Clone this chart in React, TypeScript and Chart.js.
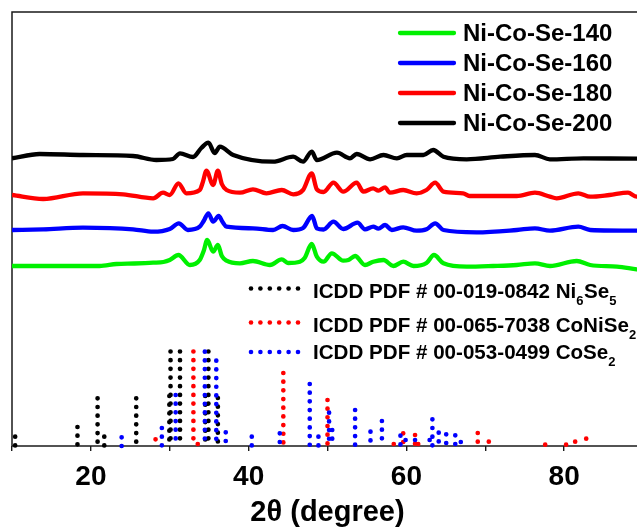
import React, { useEffect, useRef } from 'react';
import { Chart, registerables } from 'chart.js';

Chart.register(...registerables);

// ---------- data ----------
const xMin = 10;
const xMax = 90;
const xTickStep = 10;
const labelledTicks = [20, 40, 60, 80];
const xTitle = '2θ (degree)';

const seriesNames = ['Ni-Co-Se-140', 'Ni-Co-Se-160', 'Ni-Co-Se-180', 'Ni-Co-Se-200'];

const green2Theta = [10, 13.5, 17, 21.1, 23.25, 25.5, 27.9, 29.2, 30.0, 31.1, 32.55, 33.8, 34.3, 34.75, 35.5, 36.1, 36.6, 37.2, 38.9, 40.55, 42.7, 44.2, 45.0, 46.5, 47.1, 48.0, 48.65, 49.5, 50.55, 52.0, 52.65, 53.5, 54.75, 55.8, 57.1, 58.35, 59.6, 60.9, 62.55, 63.5, 64.7, 67.65, 71, 74.0, 76.3, 78.2, 81.6, 83.3, 86.7, 89.2, 90];
const greenIntensity = [180, 180, 180, 180, 182, 182.5, 183.3, 184, 186, 191, 181, 186, 195, 206, 194.3, 201, 190, 185.3, 182.7, 185, 181, 186.7, 183, 184.3, 188, 202, 189.3, 184.3, 192.7, 185.3, 186, 190, 181, 184.3, 186, 180, 184.3, 180, 183, 191, 182.7, 179.3, 180, 181, 182.7, 180, 185, 181, 179.3, 176.7, 176];

const blue2Theta = [10, 13.95, 19.0, 25.35, 27.9, 30.0, 31.15, 32.3, 33.8, 34.3, 34.9, 35.5, 36.2, 36.7, 37.2, 40.55, 43.1, 44.3, 45.65, 46.9, 48.05, 48.65, 49.5, 50.75, 52.0, 53.8, 54.75, 55.8, 56.45, 57.3, 58.15, 59.6, 61.3, 62.55, 63.65, 64.7, 68.9, 74.0, 76.3, 78.2, 81.8, 83.3, 89.2, 90];
const blueIntensity = [216, 216.7, 218.3, 216.7, 214.3, 217, 222.7, 216, 219.3, 225, 232.7, 224.3, 230, 224, 219.3, 217.7, 216, 220, 216, 218, 230, 217.7, 216.5, 224.3, 217, 223.3, 216.7, 219.3, 217.3, 221, 216, 218.7, 215.3, 216.7, 222.7, 216, 213.7, 216, 217.7, 215.3, 219.3, 216, 215.3, 215.3];

const red2Theta = [10, 13.95, 19.0, 24.1, 27.9, 29.15, 30.0, 31.1, 32.1, 33.8, 34.2, 34.65, 35.5, 36.1, 36.6, 37.2, 38.9, 40.55, 42.25, 44.2, 45.65, 46.9, 48.0, 48.65, 49.5, 50.75, 52.0, 53.7, 54.55, 55.8, 56.45, 57.3, 57.9, 59.6, 61.3, 62.55, 63.65, 64.7, 67.2, 68.0, 74.0, 76.3, 78.2, 79.05, 81.8, 83.3, 85.75, 88.1, 89.2, 90];
const redIntensity = [251, 247, 252.7, 251.7, 247.7, 253.3, 251, 262.7, 252.7, 256, 264, 275.3, 261, 275.3, 262, 256, 253.3, 256.7, 252.7, 256, 251.7, 256, 272.7, 256.7, 254, 263.3, 254.3, 263.3, 254.3, 257.7, 255.3, 258.7, 253.3, 256, 252.7, 256, 263.3, 254.3, 252.7, 250, 250, 253.3, 249.3, 247.7, 252.7, 249.3, 251, 253.3, 249.3, 249.3];

const black2Theta = [10, 13.5, 19.0, 25.35, 28.3, 30.4, 31.3, 32.95, 34.0, 34.9, 35.7, 36.35, 38.05, 43.1, 45.65, 46.9, 48.0, 48.65, 51.2, 52.85, 53.7, 55.4, 57.1, 58.8, 60.05, 62.15, 63.4, 64.7, 67.65, 71.9, 76.3, 78.2, 82.45, 89.2, 90];
const blackIntensity = [287.7, 292, 291, 290, 286, 287, 292.7, 289, 298, 303.3, 293, 299.3, 291, 284.3, 289.3, 284.3, 294.3, 286, 293.3, 287.7, 292, 286.7, 291, 287.7, 291, 291, 296, 289.3, 286.7, 289.3, 291, 286.7, 287.7, 287.3, 287.3];

// reference patterns (stick positions and heights)
const ni6se5Pos = [10.4, 18.3, 20.85, 21.7, 25.75, 29.95, 30.1, 31.3, 34.5, 34.9, 36.1];
const ni6se5Height = [9.3, 19, 47.7, 9.3, 47.7, 50, 94.5, 94.5, 50, 94.5, 48];

const coniseCPos = [28.2, 33.0, 33.55, 44.4, 50.0, 58.4, 59.6, 61.1, 61.5, 69.05, 70.45, 77.6, 80.25, 81.4, 82.8];
const coniseCHeight = [6.7, 94.5, 2, 73, 46, 2, 12.7, 11, 2, 13, 4.3, 1.3, 1.3, 4.3, 7.3];

const cose2Pos = [23.9, 29.0, 30.75, 34.45, 35.9, 37.1, 40.4, 43.95, 47.75, 48.85, 50.2, 50.6, 53.5, 55.45, 56.9, 59.25, 59.9, 61.1, 62.95, 63.3, 64.1, 65.05, 66.2, 66.9];
const cose2Height = [8.7, 18, 51, 94.3, 85.3, 13.7, 9.3, 12.7, 62, 9.3, 33.3, 16, 36, 14.3, 25, 10.3, 6, 6, 6, 26.7, 13.3, 11.7, 10.7, 4];

const refLabels = [
  [{ t: 'ICDD PDF # 00-019-0842 Ni' }, { t: '6', sub: true }, { t: 'Se' }, { t: '5', sub: true }],
  [{ t: 'ICDD PDF # 00-065-7038 CoNiSe' }, { t: '2', sub: true }],
  [{ t: 'ICDD PDF # 00-053-0499 CoSe' }, { t: '2', sub: true }],
];

// ---------- styles ----------
const GREEN = '#00f000';
const BLUE = '#0000ff';
const RED = '#ff0000';
const BLACK = '#000000';
const FONT = '"Liberation Sans", Arial, sans-serif';

function curve(xs: number[], ys: number[]) {
  return xs.map((x, i) => ({ x, y: ys[i] }));
}
function sticks(pos: number[], h: number[]) {
  const out: any[] = [];
  pos.forEach((p, i) => {
    out.push({ x: p, y: h[i] });
    out.push({ x: p, y: 0 });
    out.push({ x: p, y: null });
  });
  return out;
}

const framePlugin = {
  id: 'frame',
  beforeDatasetsDraw(chart: any) {
    const { ctx, chartArea: a } = chart;
    ctx.save();
    ctx.strokeStyle = '#1a1a1a';
    ctx.lineWidth = 1.5;
    ctx.strokeRect(a.left, a.top, a.right - a.left, a.bottom - a.top);
    ctx.restore();
  },
};

const legendPlugin = {
  id: 'customLegend',
  afterDraw(chart: any) {
    const ctx = chart.ctx;
    ctx.save();
    // series legend
    const colors = [GREEN, BLUE, RED, BLACK];
    ctx.font = `bold 24px ${FONT}`;
    ctx.textBaseline = 'middle';
    ctx.fillStyle = '#000';
    seriesNames.forEach((name, i) => {
      const y = 33 + i * 30;
      ctx.strokeStyle = colors[i];
      ctx.lineWidth = 4.3;
      ctx.lineCap = 'round';
      ctx.beginPath();
      ctx.moveTo(400, y);
      ctx.lineTo(454, y);
      ctx.stroke();
      ctx.fillText(name, 463, y + 1);
    });
    // reference legend
    const dotColors = [BLACK, RED, BLUE];
    const rowDotY = [288.5, 322.5, 352];
    const rowBase = [297.5, 331.5, 359];
    ctx.textBaseline = 'alphabetic';
    refLabels.forEach((parts, i) => {
      ctx.fillStyle = dotColors[i];
      for (let k = 0; k < 6; k++) {
        ctx.beginPath();
        ctx.arc(251 + k * 9.4, rowDotY[i], 2.3, 0, Math.PI * 2);
        ctx.fill();
      }
      ctx.fillStyle = '#000';
      let x = 313;
      parts.forEach((p: any) => {
        if (p.sub) {
          ctx.font = `bold 13px ${FONT}`;
          ctx.fillText(p.t, x, rowBase[i] + 7);
        } else {
          ctx.font = `bold 20.6px ${FONT}`;
          ctx.fillText(p.t, x, rowBase[i]);
        }
        x += ctx.measureText(p.t).width + (p.sub ? 0.5 : 0);
      });
    });
    ctx.restore();
  },
};

export default function App() {
  const ref = useRef<HTMLCanvasElement>(null);
  useEffect(() => {
    const canvas = ref.current;
    if (!canvas) return;
    const curveDs = (label: string, xs: number[], ys: number[], color: string) => ({
      label,
      data: curve(xs, ys),
      borderColor: color,
      borderWidth: 4.3,
      pointRadius: 0,
      cubicInterpolationMode: 'monotone' as const,
      fill: false,
      order: 2,
    });
    const stickDs = (label: string, pos: number[], h: number[], color: string, order: number) => ({
      label,
      data: sticks(pos, h),
      borderColor: color,
      borderWidth: 4.7,
      borderDash: [0.01, 8.67],
      borderCapStyle: 'round' as const,
      pointRadius: 0,
      spanGaps: false,
      tension: 0,
      fill: false,
      clip: 8,
      order,
    });
    const chart = new Chart(canvas, {
      type: 'line',
      data: {
        datasets: [
          curveDs(seriesNames[0], green2Theta, greenIntensity, GREEN),
          curveDs(seriesNames[1], blue2Theta, blueIntensity, BLUE),
          curveDs(seriesNames[2], red2Theta, redIntensity, RED),
          curveDs(seriesNames[3], black2Theta, blackIntensity, BLACK),
          stickDs('Ni6Se5', ni6se5Pos, ni6se5Height, BLACK, 5),
          stickDs('CoNiSe2', coniseCPos, coniseCHeight, RED, 4),
          stickDs('CoSe2', cose2Pos, cose2Height, BLUE, 3),
        ] as any,
      },
      options: {
        responsive: false,
        animation: false,
        layout: { padding: { left: 12, top: 12, right: 17, bottom: 0 } },
        plugins: { legend: { display: false }, tooltip: { enabled: false } },
        scales: {
          x: {
            type: 'linear',
            min: xMin,
            max: xMax,
            afterFit: (s: any) => {
              s.height = 81;
            },
            ticks: {
              stepSize: xTickStep,
              autoSkip: false,
              maxRotation: 0,
              padding: 9,
              color: '#000',
              font: { family: FONT, size: 28, weight: 'bold' },
              callback: (v: any) => (labelledTicks.includes(Number(v)) ? String(v) : ''),
            },
            grid: {
              display: true,
              drawOnChartArea: false,
              drawTicks: true,
              tickLength: 5,
              color: '#1a1a1a',
              lineWidth: 1.4,
            },
            border: { display: false },
            title: {
              display: true,
              text: xTitle,
              color: '#000',
              font: { family: FONT, size: 29, weight: 'bold', lineHeight: 1 },
              padding: { top: 0, bottom: 0 },
            },
          },
          y: { display: false, min: 0, max: 434 },
        },
      },
      plugins: [framePlugin, legendPlugin],
    } as any);
    return () => chart.destroy();
  }, []);
  return (
    <div style={{ position: 'fixed', left: 0, top: 0, width: 637, height: 527, overflow: 'hidden', background: '#fff' }}>
      <canvas ref={ref} width={660} height={527} style={{ display: 'block' }} />
    </div>
  );
}
